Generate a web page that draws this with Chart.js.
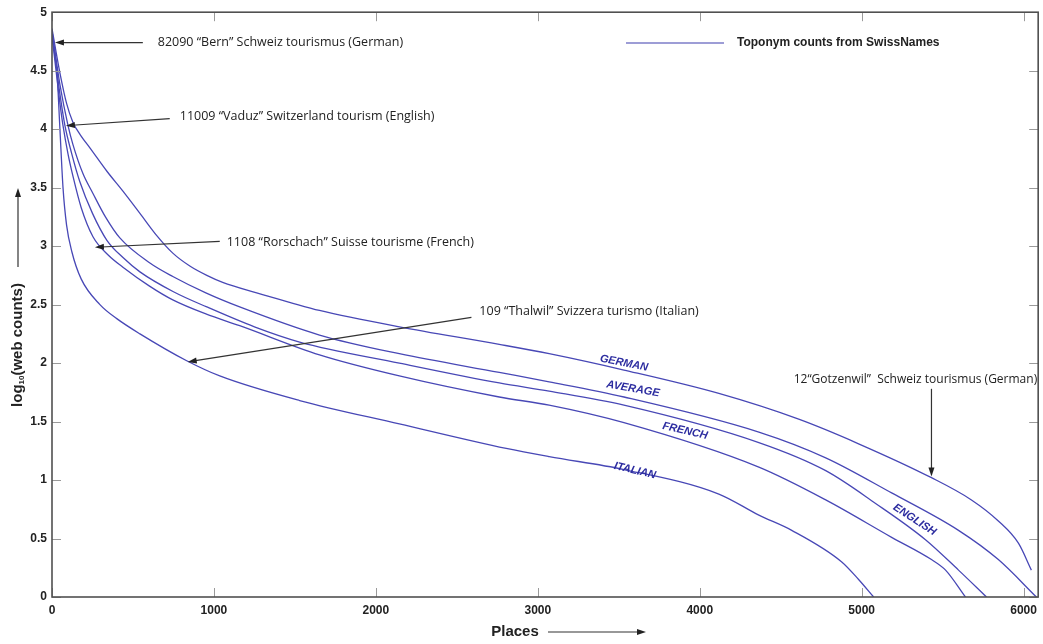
<!DOCTYPE html>
<html>
<head>
<meta charset="utf-8">
<script src="https://cdn.jsdelivr.net/npm/chart.js@4.4.0/dist/chart.umd.min.js"></script>
<style>
  html, body { margin: 0; padding: 0; background: #fff; }
  #wrap { width: 1043px; height: 644px; position: relative; }
</style>
</head>
<body>
<div id="wrap"><canvas id="chart"></canvas></div>
<script>
// Places (rank) and log10(web counts)
const germanPlaces = [0, 25, 49, 90, 129, 180, 234, 339, 438, 543, 647, 746, 851, 956, 1054, 1264, 1467, 1652, 2145, 2762, 3070, 3532, 4118, 4611, 4981, 5431, 5678, 5844, 5968, 6048];
const germanLog    = [4.86, 4.66, 4.48, 4.22, 4.06, 3.94, 3.84, 3.64, 3.47, 3.28, 3.09, 2.94, 2.83, 2.75, 2.69, 2.60, 2.52, 2.45, 2.31, 2.16, 2.08, 1.94, 1.74, 1.52, 1.31, 1.02, 0.83, 0.65, 0.46, 0.23];

const englishPlaces = [0, 25, 49, 99, 129, 191, 253, 330, 419, 600, 746, 950, 1159, 1652, 2145, 2762, 3070, 3532, 4365, 4778, 5185, 5598, 5844, 6079];
const englishLog    = [4.84, 4.60, 4.38, 4.03, 3.87, 3.62, 3.45, 3.25, 3.07, 2.86, 2.74, 2.60, 2.48, 2.24, 2.08, 1.92, 1.84, 1.71, 1.41, 1.19, 0.89, 0.57, 0.32, 0];

const averagePlaces = [0, 25, 49, 80, 120, 172, 250, 339, 440, 543, 750, 956, 1250, 1529, 2145, 2762, 3070, 3532, 4365, 4778, 5086, 5394, 5598, 5771];
const averageLog    = [4.82, 4.55, 4.30, 4.03, 3.80, 3.55, 3.28, 3.05, 2.90, 2.78, 2.61, 2.48, 2.31, 2.18, 2.00, 1.83, 1.76, 1.64, 1.32, 1.08, 0.80, 0.49, 0.23, 0];

const frenchPlaces = [0, 25, 49, 68, 100, 129, 180, 253, 350, 438, 600, 746, 950, 1159, 1652, 2145, 2762, 3070, 3532, 4365, 4778, 5185, 5431, 5518, 5641];
const frenchLog    = [4.80, 4.50, 4.22, 4.03, 3.78, 3.60, 3.33, 3.08, 2.92, 2.82, 2.66, 2.54, 2.42, 2.32, 2.07, 1.89, 1.71, 1.64, 1.49, 1.11, 0.83, 0.51, 0.32, 0.23, 0];

const italianPlaces = [0, 15, 31, 49, 68, 90, 123, 180, 296, 400, 543, 832, 1036, 1529, 2145, 2805, 3070, 3532, 4118, 4365, 4568, 4877, 4981, 5074];
const italianLog    = [4.80, 4.68, 4.48, 4.00, 3.50, 3.18, 2.95, 2.72, 2.50, 2.38, 2.25, 2.02, 1.89, 1.68, 1.48, 1.27, 1.20, 1.09, 0.88, 0.70, 0.57, 0.30, 0.15, 0];

const seriesNames = ['GERMAN', 'ENGLISH', 'AVERAGE', 'FRENCH', 'ITALIAN'];
const seriesPlaces = [germanPlaces, englishPlaces, averagePlaces, frenchPlaces, italianPlaces];
const seriesLog = [germanLog, englishLog, averageLog, frenchLog, italianLog];

const xTickValues = [0, 1000, 2000, 3000, 4000, 5000, 6000];
const yTickValues = [0, 0.5, 1, 1.5, 2, 2.5, 3, 3.5, 4, 4.5, 5];

const legendText = 'Toponym counts from SwissNames';

// curve name labels: [x, y, rotation in degrees]
const nameLabelAt = {
  GERMAN:  [3532, 2.00, 11],
  AVERAGE: [3588, 1.78, 10],
  FRENCH:  [3909, 1.42, 13],
  ITALIAN: [3600, 1.08, 13],
  ENGLISH: [5327, 0.66, 33]
};

// callouts: text, text anchor, arrow tail, arrow tip (data units)
const callouts = [
  { text: '82090 “Bern” Schweiz tourismus (German)',        at: [653, 4.74],  from: [561, 4.74],  to: [18, 4.74] },
  { text: '11009 “Vaduz” Switzerland tourism (English)',     at: [789, 4.11],  from: [727, 4.09],  to: [86, 4.03] },
  { text: '1108 “Rorschach” Suisse tourisme (French)',       at: [1079, 3.03], from: [1036, 3.04], to: [265, 2.99] },
  { text: '109 “Thalwil” Svizzera turismo (Italian)',        at: [2639, 2.44], from: [2590, 2.39], to: [838, 2.01] },
  { text: '12“Gotzenwil”  Schweiz tourismus (German)',       at: [4580, 1.86], from: [5431, 1.78], to: [5431, 1.03], size: 12 }
];

const lineColor = '#4848b6';

function drawArrow(ctx, x1, y1, x2, y2) {
  const ang = Math.atan2(y2 - y1, x2 - x1);
  const len = 9, w = 3;
  ctx.beginPath();
  ctx.moveTo(x1, y1);
  ctx.lineTo(x2 - Math.cos(ang) * len * 0.7, y2 - Math.sin(ang) * len * 0.7);
  ctx.stroke();
  ctx.beginPath();
  ctx.moveTo(x2, y2);
  ctx.lineTo(x2 - len * Math.cos(ang) + w * Math.sin(ang), y2 - len * Math.sin(ang) - w * Math.cos(ang));
  ctx.lineTo(x2 - len * Math.cos(ang) - w * Math.sin(ang), y2 - len * Math.sin(ang) + w * Math.cos(ang));
  ctx.closePath();
  ctx.fill();
}

const decorPlugin = {
  id: 'decor',
  afterDatasetsDraw(chart) {
    const { ctx, chartArea: a, scales: { x, y } } = chart;
    ctx.save();

    // tick marks pointing inward on all four sides
    ctx.strokeStyle = '#9a9a9a';
    ctx.lineWidth = 1;
    ctx.beginPath();
    xTickValues.forEach(v => {
      const px = Math.round(x.getPixelForValue(v)) + 0.5;
      ctx.moveTo(px, a.bottom); ctx.lineTo(px, a.bottom - 9);
      ctx.moveTo(px, a.top); ctx.lineTo(px, a.top + 9);
    });
    yTickValues.forEach(v => {
      const py = Math.round(y.getPixelForValue(v)) + 0.5;
      ctx.moveTo(a.left, py); ctx.lineTo(a.left + 9, py);
      ctx.moveTo(a.right, py); ctx.lineTo(a.right - 9, py);
    });
    ctx.stroke();

    // frame
    ctx.strokeStyle = '#505050';
    ctx.lineWidth = 1.6;
    ctx.strokeRect(a.left, a.top, a.right - a.left, a.bottom - a.top);

    // legend
    ctx.strokeStyle = '#7c7cc8';
    ctx.lineWidth = 1.6;
    ctx.beginPath(); ctx.moveTo(626, 43); ctx.lineTo(724, 43); ctx.stroke();
    ctx.fillStyle = '#222';
    ctx.font = 'bold 12px "Liberation Sans", Arial, sans-serif';
    ctx.textAlign = 'left'; ctx.textBaseline = 'middle';
    ctx.fillText(legendText, 737, 43);

    // callouts
    ctx.strokeStyle = '#333'; ctx.fillStyle = '#222'; ctx.lineWidth = 1.2;
    callouts.forEach(c => {
      ctx.font = (c.size || 12.5) + 'px "Open Sans", sans-serif';
      ctx.fillText(c.text, x.getPixelForValue(c.at[0]), y.getPixelForValue(c.at[1]));
      drawArrow(ctx, x.getPixelForValue(c.from[0]), y.getPixelForValue(c.from[1]),
                     x.getPixelForValue(c.to[0]), y.getPixelForValue(c.to[1]));
    });

    // curve names
    ctx.fillStyle = '#2d2da0';
    ctx.font = 'italic bold 11px "Liberation Sans", Arial, sans-serif';
    ctx.textAlign = 'center';
    Object.keys(nameLabelAt).forEach(name => {
      const [vx, vy, rot] = nameLabelAt[name];
      ctx.save();
      ctx.translate(x.getPixelForValue(vx), y.getPixelForValue(vy));
      ctx.rotate(rot * Math.PI / 180);
      ctx.fillText(name, 0, 0);
      ctx.restore();
    });

    // x axis title with arrow
    ctx.fillStyle = '#222'; ctx.strokeStyle = '#333'; ctx.lineWidth = 1.2;
    ctx.font = 'bold 15px "Liberation Sans", Arial, sans-serif';
    ctx.textAlign = 'center';
    ctx.fillText('Places', 515, 632);
    drawArrow(ctx, 548, 632, 646, 632);

    // y axis title: log10(web counts), rotated, with arrow
    ctx.save();
    ctx.translate(18, 345);
    ctx.rotate(-Math.PI / 2);
    const big = 'bold 15px "Liberation Sans", Arial, sans-serif';
    const small = 'bold 8px "Liberation Sans", Arial, sans-serif';
    ctx.font = big; const w1 = ctx.measureText('log').width;
    ctx.font = small; const w2 = ctx.measureText('10').width;
    ctx.font = big; const w3 = ctx.measureText('(web counts)').width;
    let sx = -(w1 + w2 + w3) / 2;
    ctx.textAlign = 'left';
    ctx.font = big; ctx.fillText('log', sx, 0); sx += w1;
    ctx.font = small; ctx.fillText('10', sx, 4); sx += w2;
    ctx.font = big; ctx.fillText('(web counts)', sx, 0);
    ctx.restore();
    drawArrow(ctx, 18, 267, 18, 188);

    ctx.restore();
  }
};

const datasets = seriesNames.map((name, i) => ({
  label: name,
  data: seriesPlaces[i].map((p, k) => ({ x: p, y: seriesLog[i][k] })),
  borderColor: lineColor,
  borderWidth: 1.3,
  pointRadius: 0,
  fill: false,
  cubicInterpolationMode: 'monotone'
}));

const tickFont = { family: '"Liberation Sans", Arial, sans-serif', weight: 'bold', size: 12 };

new Chart(document.getElementById('chart'), {
  type: 'line',
  data: { datasets: datasets },
  options: {
    responsive: true,
    maintainAspectRatio: false,
    animation: false,
    layout: { padding: { top: 9, right: 3, left: 0, bottom: 0 } },
    plugins: { legend: { display: false }, tooltip: { enabled: false } },
    scales: {
      x: {
        type: 'linear', min: 0, max: 6090,
        grid: { display: false, drawTicks: false },
        border: { display: false },
        afterBuildTicks: s => { s.ticks = xTickValues.map(v => ({ value: v })); },
        afterFit: s => { s.height = 47; },
        ticks: { padding: 6, color: '#222', font: tickFont, maxRotation: 0, autoSkip: false, callback: v => String(v) }
      },
      y: {
        type: 'linear', min: 0, max: 5,
        grid: { display: false, drawTicks: false },
        border: { display: false },
        afterBuildTicks: s => { s.ticks = yTickValues.map(v => ({ value: v })); },
        afterFit: s => { s.width = 52; },
        ticks: { padding: 5, color: '#222', font: tickFont, autoSkip: false, callback: v => String(v) }
      }
    }
  },
  plugins: [decorPlugin]
});
</script>
</body>
</html>
